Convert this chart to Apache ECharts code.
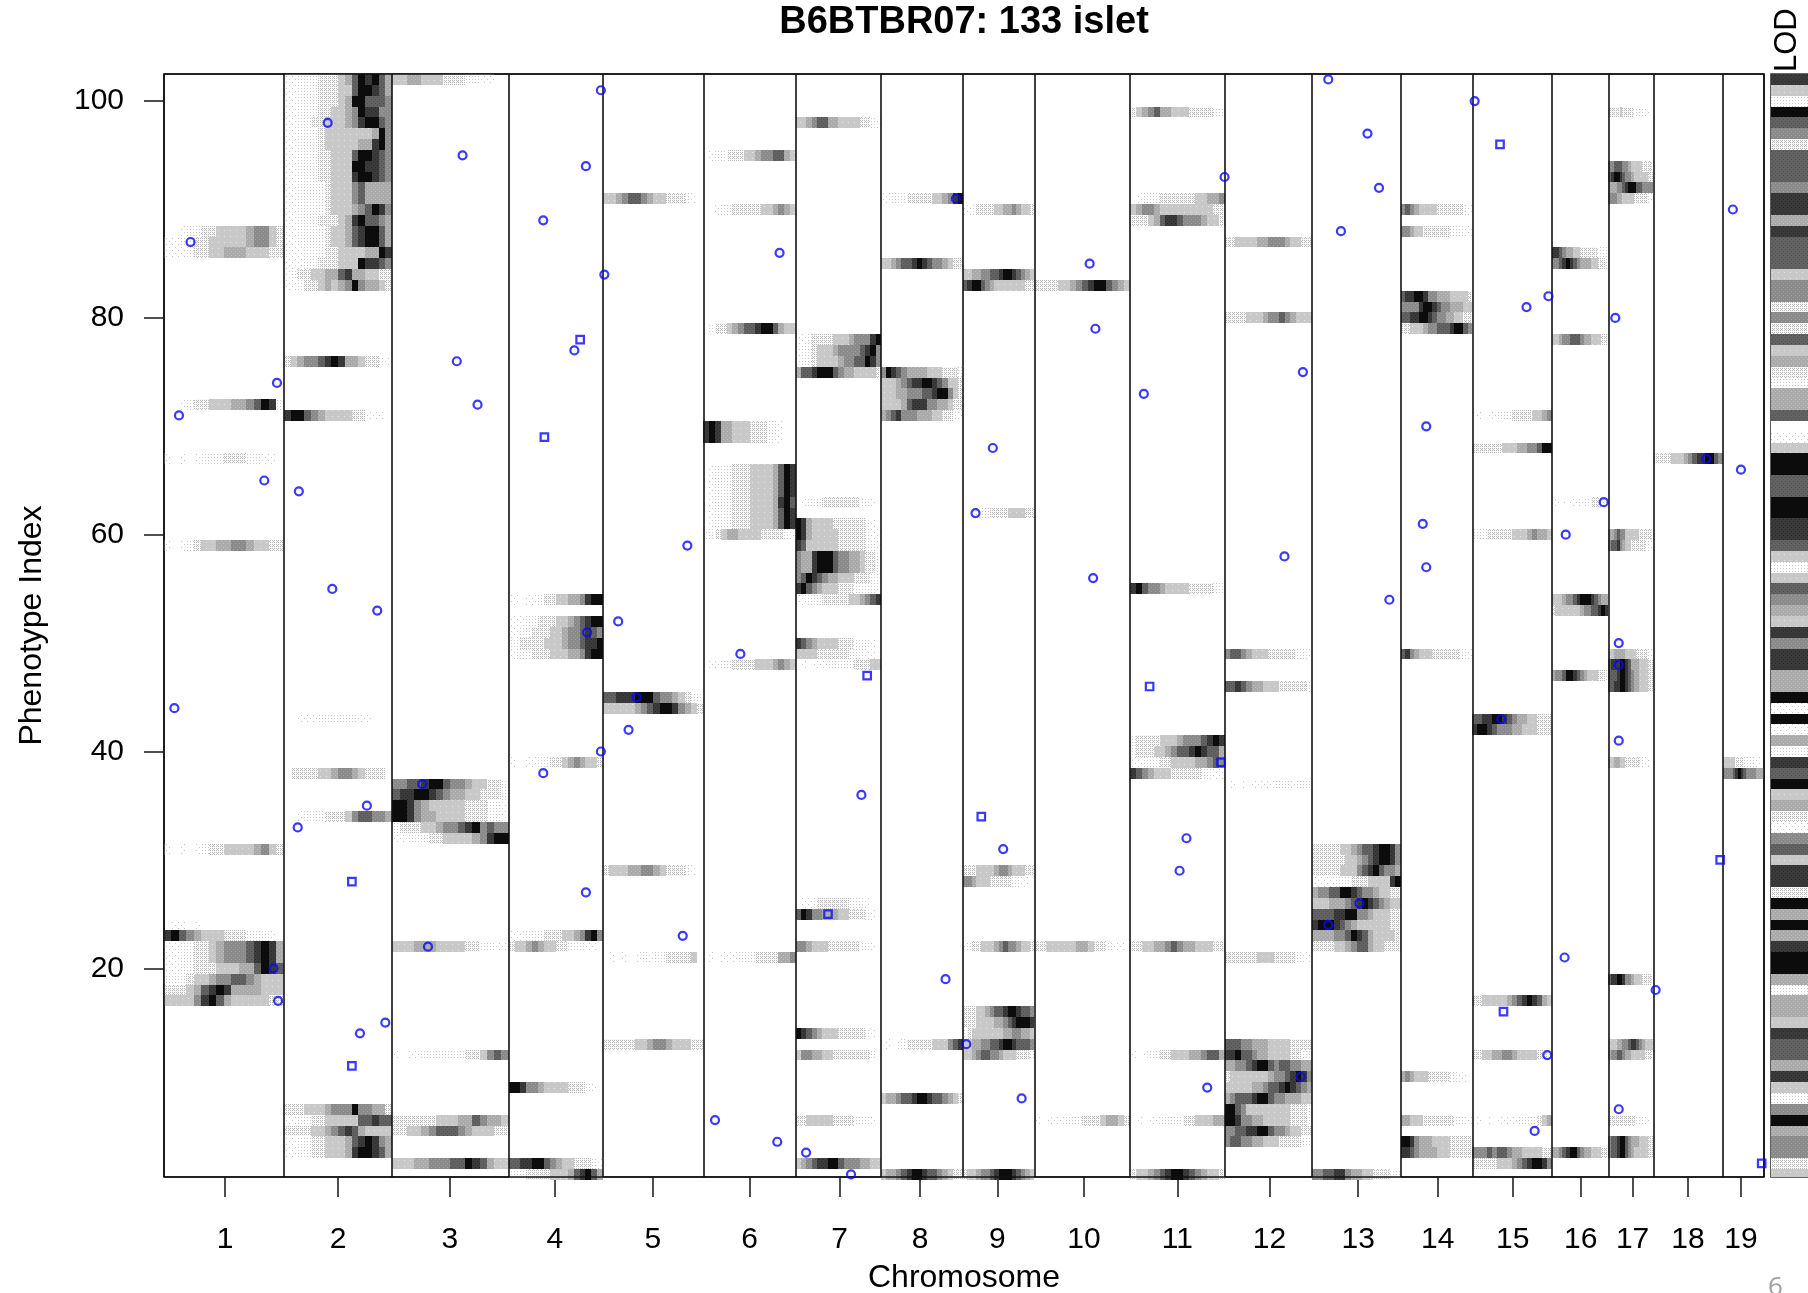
<!DOCTYPE html>
<html>
<head>
<meta charset="utf-8">
<title>B6BTBR07: 133 islet</title>
<script src="https://cdn.jsdelivr.net/npm/echarts@6/dist/echarts.min.js"></script>
<style>
  html, body { margin: 0; padding: 0; background: #fff; overflow: hidden; }
  #main { width: 1808px; height: 1293px; }
</style>
</head>
<body>
<div id="main"></div>
<script>
// chromosome lengths (cM) and the place of each tick on the genome scale
const chromLens = [104, 94, 101, 82, 87, 80, 74, 71, 62, 83, 82, 76, 77, 62, 69, 49, 39, 60, 36]
const chromTicks = [53, 151, 248, 339, 424, 508, 586, 656, 723, 798, 879, 959, 1036, 1105, 1170, 1229, 1274, 1322, 1368]
const chromNames = ['1', '2', '3', '4', '5', '6', '7', '8', '9', '10', '11', '12', '13', '14', '15', '16', '17', '18', '19']
const rowTicks = [20, 40, 60, 80, 100]

// LOD level 0-9 along each chromosome, per phenotype row: [row, levels]
const chr1 = [[88, '0012233444456643'], [87, '1122334444456643'], [86, '1112334455544433'], [72, '0012334445567982'],
  [67, '1010122233322110'], [59, '1012344556654433'], [31, '1010123344445643'], [24, '0110100000000000'],
  [23, '8976544433322210'], [22, '1122334566678985'], [21, '1122334566678985'], [20, '1122333444557987'],
  [19, '2223445667765444'], [18, '3334578985555444'], [17, '4444689754444433']]
const chr2 = [[102, '1122233345798975'], [101, '1122233344799875'], [100, '1122233345997776'], [99, '1122233445698866'],
  [98, '1122334445689976'], [97, '1122234444444596'], [96, '1122234444455896'], [95, '1122233444799876'],
  [94, '1122233444998876'], [93, '1122233444899876'], [92, '1122223444675555'], [91, '1122223444675555'],
  [90, '1122223444567986'], [89, '1122233345897765'], [88, '1122223445789975'], [87, '1122223445789975'],
  [86, '1112223344445598'], [85, '1112233344498876'], [84, '1233445578554433'], [83, '1123345456965543'],
  [76, '3456678985543321'], [71, '8997654444331110'], [43, '0011122222211000'], [38, '0333344566543330'],
  [34, '0012223334677665'], [7, '3334445666966553'], [6, '1122334444477877'], [5, '3333445678754444'],
  [4, '1122334445789865'], [3, '1122334445899875']]
const chr3 = [[102, '4455444333221100'], [37, '6677899766544332'], [36, '7889987655443332'], [35, '9986544444333221'],
  [34, '9986554444333221'], [33, '2333445667896766'], [32, '1122233444456899'], [22, '4445554444332211'],
  [12, '1011222222334676'], [6, '3333334445576554'], [5, '3344567776544433'], [2, '4445566677987544']]
const chr4 = [[54, '1101123344556899'], [52, '1112233344567899'], [51, '1122333445667876'], [50, '2233334445667889'],
  [49, '1222333444556899'], [39, '1001122334565443'], [23, '1112223334456896'], [22, '3445654433222110'],
  [9, '9986654444333210'], [2, '7788997654433321'], [1, '2223333444578975']]
const chr5 = [[91, '4456776544333210'], [45, '7788899976654322'], [44, '4444456789986543'], [29, '3444556654333210'],
  [21, '0101012122333340'], [13, '3333344566544433']]
const chr6 = [[95, '0122333445667754'], [90, '0012233333445654'], [79, '0233456778997544'], [70, '8985544433322100'],
  [69, '8985544433321100'], [66, '0122233344445798'], [65, '0122233344445798'], [64, '0122233344445798'],
  [63, '0122233344445897'], [62, '0122233344445798'], [61, '0122233344445798'], [60, '1234554444333321'],
  [48, '0112233334445654'], [21, '0101112223333556']]
const chr7 = [[98, '4456775544443321'], [78, '1123333444566689'], [77, '1223444566667896'], [76, '1223444456677986'],
  [75, '5778999765544443'], [63, '0122233333332210'], [61, '9854444333333210'], [60, '9854444433333211'],
  [59, '8744444433333221'], [58, '6558999766554332'], [57, '6558999766554332'], [56, '6798765544433322'],
  [55, '8976544433322221'], [54, '1122233333445678'], [50, '8765444433322210'], [49, '4444333333222110'],
  [48, '0101112222233344'], [26, '0112333333222100'], [25, '7986655544333210'], [22, '6654443333332210'],
  [14, '9876544433333210'], [12, '4665544333333320'], [6, '3344444333322210'], [2, '4567889976665544']]
const chr8 = [[91, '1122233333445689'], [85, '4456778987665433'], [75, '6987655554443332'], [74, '4445678899876443'],
  [73, '4445566677899643'], [72, '4444578886655433'], [71, '5678666555443321'], [13, '0101233333444678'],
  [8, '4556778998776543'], [1, '4556789987765433']]
const chr9 = [[90, '1123333445565443'], [84, '4455667789987654'], [83, '7899765444444433'], [62, '0011223333444433'],
  [29, '3334444566544433'], [28, '6654443333322110'], [22, '1233444567665443'], [16, '3334456778998776'],
  [15, '3334444556789998'], [14, '2344444445566554'], [13, '4455667789987776'], [12, '4456776654443332'], [1, '3445667899987654']]
const chr10 = [[83, '3333445678997654'], [22, '3344444554332110'], [6, '1011122233345543']]
const chr11 = [[99, '3456755444333322'], [91, '0122233333344556'], [90, '4566544444444433'], [89, '3334578876665443'],
  [55, '8976654444333322'], [41, '2333344456667898'], [40, '2333445677898775'], [39, '1122233444455676'],
  [38, '8765444333332211'], [22, '3344556765544433'], [12, '1012233444556775'], [6, '0101122223344455'], [1, '3445678998765443']]
const chr12 = [[87, '3344445566654433'], [80, '3333444566765444'], [49, '6776544433333221'], [46, '7787655444333332'],
  [37, '0101011112221222'], [21, '3333334443333211'], [13, '7776655544443333'], [12, '8897765544443322'],
  [11, '5566789976776655'], [10, '3444444456678986'], [9, '4444455677898765'], [8, '5677789976655544'],
  [7, '9976444444443332'], [6, '9986655444443332'], [5, '6677889976654433'], [4, '6776655444333322']]
const chr13 = [[31, '3333344567789986'], [30, '3333334456789986'], [29, '3333344467897665'], [28, '1111222333444489'],
  [27, '5667799876654433'], [26, '4445556789876544'], [25, '7777889966544433'], [24, '8999876544444433'],
  [23, '5555667987544443'], [22, '3333445677544333'], [1, '6677886554433322']]
const chr14 = [[90, '6765444433333321'], [88, '6654433333322211'], [82, '7889986655544443'], [81, '6666899876655544'],
  [80, '7788998766554433'], [79, '3344456677789976'], [49, '7865444333333221'], [10, '5654443333322110'],
  [6, '5544433333332211'], [4, '9986555444433333'], [3, '8876555544433333']]
const chr15 = [[71, '0101122233334456'], [68, '3333334445566799'], [60, '2223333344456554'], [43, '7788998765544333'],
  [42, '8998766655444333'], [17, '3344444567898754'], [12, '3344556654444332'], [6, '0101011112222345'],
  [3, '6667677655444433'], [2, '3333344456789986']]
const chr16 = [[86, '8876554433333222'], [85, '6678987655544332'], [78, '4456677765544433'], [63, '0101011212233321'],
  [54, '4445667899987655'], [53, '3444444456677898'], [47, '5667998765444332'], [3, '5567899765544433']]
const chr17 = [[99, '3333433332222110'], [94, '6677766544443332'], [93, '7899876654444433'], [92, '5556678999776666'],
  [91, '6665544443333321'], [60, '5567664444433332'], [59, '6778654433333221'], [49, '4455554444333321'],
  [48, '7888998755544433'], [47, '7778998765544433'], [46, '7788998765544433'], [39, '4455443333322110'],
  [19, '7889986654443332'], [13, '4445566788765444'], [12, '5667765544444332'], [6, '3333333333222110'],
  [4, '6778997655544433'], [3, '6778997654444433']]
const chr18 = [[67, '3333444567889976']]
const chr19 = [[39, '4444433322221110'], [38, '6666789876666555']]
const chromBands = [chr1, chr2, chr3, chr4, chr5, chr6, chr7, chr8, chr9, chr10, chr11, chr12, chr13, chr14, chr15, chr16, chr17, chr18, chr19]

// LOD legend strip, row 102 at the start, row 1 at the end
const lodStrip = [8, 4, 2, 9, 7, 6, 3, 7, 7, 7, 6, 8, 8, 5, 8, 7, 7, 7, 4, 6,
  6, 3, 6, 3, 7, 4, 5, 3, 2, 5, 5, 7, 0, 1, 4, 9, 9, 7, 7, 9,
  9, 8, 8, 7, 4, 2, 4, 7, 6, 5, 4, 8, 6, 8, 8, 5, 5, 9, 1, 9,
  1, 5, 2, 8, 7, 9, 4, 5, 3, 1, 6, 7, 4, 8, 8, 3, 9, 5, 9, 5,
  8, 9, 9, 5, 2, 5, 5, 4, 8, 7, 7, 5, 8, 4, 2, 6, 9, 5, 6, 6, 3, 4]

// transcript positions: [genome position, phenotype row]
const circleGenes = [[23, 87], [13, 71], [98, 74], [87, 65], [117, 64], [142, 98], [146, 55], [185, 53], [9, 44], [259, 95],
  [254, 76], [272, 72], [329, 89], [366, 94], [379, 101], [382, 84], [356, 77], [394, 52], [367, 51], [454, 59],
  [534, 86], [500, 49], [687, 91], [410, 45], [403, 42], [379, 40], [329, 38], [366, 27], [450, 23], [95, 20],
  [99, 17], [224, 37], [176, 35], [116, 33], [229, 22], [192, 15], [170, 14], [605, 36], [478, 6], [532, 4],
  [557, 3], [596, 1], [719, 68], [704, 62], [728, 31], [678, 19], [696, 13], [744, 8], [803, 85], [808, 79],
  [806, 56], [920, 93], [850, 73], [887, 32], [881, 29], [905, 9], [1010, 102], [1044, 97], [1054, 92], [1021, 88],
  [988, 75], [972, 58], [1063, 54], [1010, 24], [1037, 26], [986, 10], [1137, 100], [1182, 81], [1201, 82], [1095, 70],
  [1092, 61], [1095, 57], [1160, 43], [1200, 12], [1189, 5], [1259, 80], [1249, 63], [1216, 60], [1215, 21], [1262, 50],
  [1262, 48], [1262, 41], [1262, 7], [1294, 18], [1338, 67], [1368, 66], [1361, 90]]
const squareGenes = [[361, 78], [330, 69], [163, 28], [163, 11], [610, 47], [576, 25], [709, 34], [855, 46], [917, 39], [1159, 96],
  [1162, 16], [1350, 30], [1386, 2]]

const rowMin = 0.75
const rowMax = 102.5

// build the cells of the map from the band tables
let genomeLen = 0
let boundaries = [0]
let cells = []
chromLens.forEach((len, c) => {
  chromBands[c].forEach(band => {
    let levels = band[1]
    let step = len / levels.length
    for (let i = 0; i < levels.length; i++) {
      if (levels[i] !== '0') {
        cells.push([genomeLen + i * step, genomeLen + (i + 1) * step, band[0], Number(levels[i])])
      }
    }
  })
  genomeLen += len
  boundaries.push(genomeLen)
})
let stripCells = lodStrip.map((lod, i) => [0, 1, 102 - i, lod])

// the plot has stippled light greys, so levels are small repeating tiles
function tile(size, base, dotColor, dots) {
  const canvas = document.createElement('canvas')
  canvas.width = size
  canvas.height = size
  const ctx = canvas.getContext('2d')
  ctx.fillStyle = base
  ctx.fillRect(0, 0, size, size)
  ctx.fillStyle = dotColor
  dots.forEach(d => ctx.fillRect(d[0], d[1], 1, 1))
  return {image: canvas, repeat: 'repeat'}
}
const lodFill = [
  '#ffffff',
  tile(6, '#ffffff', '#c4c4c4', [[1, 1], [4, 4]]),
  tile(3, '#ffffff', '#c8c8c8', [[1, 1]]),
  tile(4, '#f8f8f8', '#bbbbbb', [[0, 0], [2, 0], [1, 1], [0, 2], [2, 2]]),
  tile(6, '#c8c8c8', '#e6e6e6', [[2, 2]]),
  tile(4, '#aaaaaa', '#c0c0c0', [[1, 1], [3, 3]]),
  tile(4, '#8a8a8a', '#a0a0a0', [[1, 1], [3, 3]]),
  tile(4, '#626262', '#505050', [[1, 1], [3, 3]]),
  tile(4, '#3a3a3a', '#2a2a2a', [[1, 1], [3, 3]]),
  '#0c0c0c'
]

function renderCell(params, api) {
  let p0 = api.coord([api.value(0), api.value(2) + 0.5])
  let p1 = api.coord([api.value(1), api.value(2) - 0.5])
  let x = Math.round(p0[0])
  let y = Math.round(p0[1])
  return {
    type: 'rect',
    shape: {x: x, y: y, width: Math.round(p1[0]) - x, height: Math.round(p1[1]) - y},
    style: {fill: lodFill[api.value(3)]}
  }
}

const fontName = '"Liberation Sans", Arial, sans-serif'
const geneStyle = {color: 'rgba(0,0,0,0)', borderColor: '#0808ff', borderWidth: 2.2}

// frame and chromosome dividers sit on top of the cells
const frameLines = boundaries.map(b => ({xAxis: b})).concat([{yAxis: rowMin}, {yAxis: rowMax}])

const myChart = echarts.init(document.getElementById('main'), null, {renderer: 'canvas'})
let option = {
  animation: false,
  backgroundColor: '#fff',
  textStyle: {fontFamily: fontName, color: '#000'},
  title: {
    text: 'B6BTBR07: 133 islet',
    left: 959,
    top: -1,
    textAlign: 'center',
    textStyle: {fontFamily: fontName, fontSize: 38, fontWeight: 'bold', color: '#000'}
  },
  grid: [
    {left: 164, top: 74, width: 1600, height: 1103, outerBoundsMode: 'none', show: true, borderColor: '#222', borderWidth: 1.6, backgroundColor: '#fff'},
    {left: 1771, top: 74, width: 37, height: 1103, outerBoundsMode: 'none', show: true, borderColor: '#333', borderWidth: 1.6, backgroundColor: '#fff'}
  ],
  xAxis: [
    {
      gridIndex: 0,
      type: 'value',
      min: 0,
      max: genomeLen,
      name: 'Chromosome',
      nameLocation: 'middle',
      nameGap: 85,
      nameTextStyle: {fontFamily: fontName, fontSize: 32, color: '#000'},
      splitLine: {show: false},
      axisLine: {show: false},
      axisTick: {show: true, length: 20, customValues: chromTicks, lineStyle: {color: '#222', width: 1.6}},
      axisLabel: {
        show: true,
        customValues: chromTicks,
        margin: 48,
        fontFamily: fontName,
        fontSize: 30,
        color: '#000',
        hideOverlap: false,
        formatter: v => chromNames[chromTicks.indexOf(v)]
      }
    },
    {gridIndex: 1, type: 'value', min: 0, max: 1, show: false}
  ],
  yAxis: [
    {
      gridIndex: 0,
      type: 'value',
      min: rowMin,
      max: rowMax,
      name: 'Phenotype Index',
      nameLocation: 'middle',
      nameRotate: 90,
      nameGap: 116,
      nameTextStyle: {fontFamily: fontName, fontSize: 32, color: '#000'},
      splitLine: {show: false},
      axisLine: {show: false},
      axisTick: {show: true, length: 20, customValues: rowTicks, lineStyle: {color: '#222', width: 1.6}},
      axisLabel: {show: true, customValues: rowTicks, margin: 40, padding: [4, 0, 0, 0], fontFamily: fontName, fontSize: 30, color: '#000'}
    },
    {gridIndex: 1, type: 'value', min: rowMin, max: rowMax, show: false}
  ],
  series: [
    {
      name: 'LOD',
      type: 'custom',
      coordinateSystem: 'cartesian2d',
      renderItem: renderCell,
      clip: true,
      silent: true,
      encode: {x: [0, 1], y: 2},
      data: cells,
      z: 2,
      markLine: {
        silent: true,
        symbol: 'none',
        label: {show: false},
        lineStyle: {color: '#111', width: 1.6, type: 'solid'},
        data: frameLines
      }
    },
    {
      name: 'LOD strip',
      type: 'custom',
      coordinateSystem: 'cartesian2d',
      xAxisIndex: 1,
      yAxisIndex: 1,
      renderItem: renderCell,
      clip: true,
      silent: true,
      encode: {x: [0, 1], y: 2},
      data: stripCells,
      z: 2
    },
    {
      name: 'circle',
      type: 'scatter',
      symbol: 'circle',
      symbolSize: 8,
      clip: false,
      silent: true,
      itemStyle: geneStyle,
      data: circleGenes,
      z: 5
    },
    {
      name: 'square',
      type: 'scatter',
      symbol: 'rect',
      symbolSize: 7.5,
      clip: false,
      silent: true,
      itemStyle: geneStyle,
      data: squareGenes,
      z: 5
    }
  ],
  graphic: [
    {
      type: 'text',
      x: 1772,
      y: 72,
      rotation: Math.PI / 2,
      silent: true,
      style: {text: 'LOD', fontFamily: fontName, fontSize: 31, fill: '#000'}
    },
    {
      type: 'text',
      x: 1768,
      y: 1275,
      silent: true,
      style: {text: '6', fontFamily: '"Open Sans", sans-serif', fontSize: 26, fill: '#a0a0a0'}
    }
  ]
}
option && myChart.setOption(option)
</script>
</body>
</html>
